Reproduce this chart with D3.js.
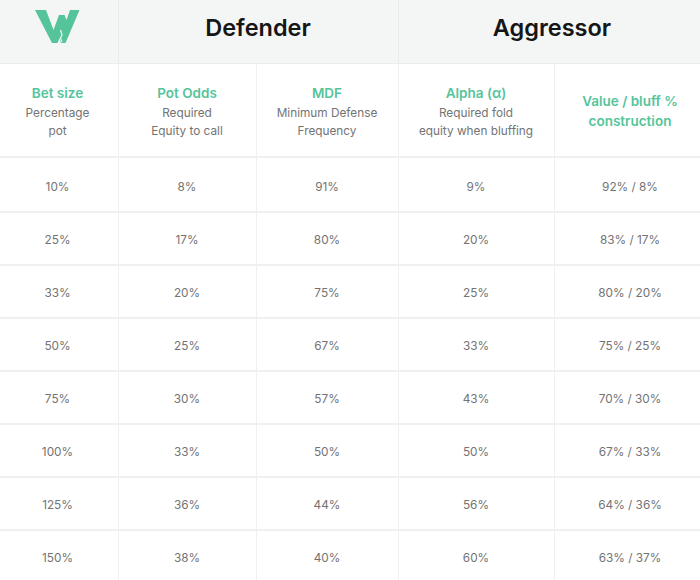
<!DOCTYPE html>
<html><head><meta charset="utf-8">
<script src="https://cdn.jsdelivr.net/npm/d3@7"></script>
<style>html,body{margin:0;padding:0;background:#fff;}svg{display:block;font-family:Inter,"Noto Sans",sans-serif;}</style>
</head><body><div id="c"></div>
<script>
const groups = ["Defender", "Aggressor"];
const columnTitles = ["Bet size", "Pot Odds", "MDF", "Alpha (α)", "Value / bluff %"];
const columnSubtitles = [["Percentage", "pot"], ["Required", "Equity to call"], ["Minimum Defense", "Frequency"], ["Required fold", "equity when bluffing"], []];
const betSize = [10, 25, 33, 50, 75, 100, 125, 150];
const potOdds = [8, 17, 20, 25, 30, 33, 36, 38];
const mdf = [91, 80, 75, 67, 57, 50, 44, 40];
const alpha = [9, 20, 25, 33, 43, 50, 56, 60];
const valueShare = [92, 83, 80, 75, 70, 67, 64, 63];
const bluffShare = [8, 17, 20, 25, 30, 33, 36, 37];

const W = 700, H = 580;
const green = "#55c49b";
const svg = d3.select("#c").append("svg").attr("width", W).attr("height", H);

const edges = [-3, 118, 256, 398, 554, 706];
const colIdx = d3.range(columnTitles.length);
const x0 = d3.scaleOrdinal().domain(colIdx).range(edges.slice(0, -1));
const x1 = d3.scaleOrdinal().domain(colIdx).range(edges.slice(1));
const cx = i => (x0(i) + x1(i)) / 2;

const headerH = 64;
const y = d3.scaleBand().domain(d3.range(betSize.length)).range([159, 583]);

// header background
svg.append("rect").attr("x", 0).attr("y", 0).attr("width", W).attr("height", headerH).attr("fill", "#f4f5f5");
svg.append("line").attr("x1", 0).attr("x2", W).attr("y1", headerH - 0.5).attr("y2", headerH - 0.5).attr("stroke", "#ececec");

// logo
svg.append("path")
  .attr("d", "M35,10 L46,10 L53.5,30 L59,15 L64.5,15 L66.5,20 L70,10 L79.5,10 L65.5,43 L61,43 L59.5,38 L57.5,43 L52,43 Z")
  .attr("fill", green);
svg.append("path").attr("d", "M60.5,30 L62,35 L60.5,38 L62,42").attr("stroke", "#f4f5f5").attr("stroke-width", 1.2).attr("fill", "none");

// group titles
const groupSpans = [[1, 2], [3, 4]];
svg.selectAll("text.group").data(groups).join("text")
  .attr("class", "group")
  .attr("x", (d, i) => (x0(groupSpans[i][0]) + x1(groupSpans[i][1])) / 2)
  .attr("y", 36).attr("text-anchor", "middle")
  .attr("font-size", 23.5).attr("font-weight", 600).attr("fill", "#161616").text(d => d);

// grid lines
const lineColor = "#f0f0f0";
svg.selectAll("line.hdr").data([118, 398]).join("line")
  .attr("x1", d => d + 0.5).attr("x2", d => d + 0.5).attr("y1", 0).attr("y2", headerH).attr("stroke", "#e9eaea");
svg.selectAll("line.v").data(edges.slice(1, -1)).join("line")
  .attr("x1", d => d + 0.5).attr("x2", d => d + 0.5).attr("y1", headerH).attr("y2", H).attr("stroke", lineColor);
svg.append("line").attr("x1", 0).attr("x2", W).attr("y1", 157).attr("y2", 157).attr("stroke", lineColor).attr("stroke-width", 2);
svg.selectAll("line.h").data(d3.range(1, betSize.length)).join("line")
  .attr("x1", 0).attr("x2", W).attr("y1", d => y(d)).attr("y2", d => y(d))
  .attr("stroke", lineColor).attr("stroke-width", 2);

// column titles
colIdx.forEach(i => {
  const sub = columnSubtitles[i];
  if (sub.length) {
    svg.append("text").attr("x", cx(i)).attr("y", 98).attr("text-anchor", "middle")
      .attr("font-size", 13.5).attr("font-weight", 600).attr("fill", green).text(columnTitles[i]);
    sub.forEach((s, k) => svg.append("text").attr("x", cx(i)).attr("y", 116.5 + k * 18.5).attr("text-anchor", "middle")
      .attr("font-size", 11.8).attr("fill", "#737373").text(s));
  } else {
    svg.append("text").attr("x", cx(i)).attr("y", 106).attr("text-anchor", "middle")
      .attr("font-size", 13.5).attr("font-weight", 600).attr("fill", green).text(columnTitles[i]);
    svg.append("text").attr("x", cx(i)).attr("y", 126).attr("text-anchor", "middle")
      .attr("font-size", 13.5).attr("font-weight", 600).attr("fill", green).text("construction");
  }
});

// body
const rows = betSize.map((b, i) => [b + "%", potOdds[i] + "%", mdf[i] + "%", alpha[i] + "%", valueShare[i] + "% / " + bluffShare[i] + "%"]);
const rowG = svg.selectAll("g.row").data(rows).join("g").attr("class", "row")
  .attr("transform", (d, i) => `translate(0,${y(i) + y.bandwidth() / 2 + 1})`);
rowG.selectAll("text").data(d => d).join("text")
  .attr("x", (d, i) => cx(i)).attr("y", 0).attr("dy", "0.35em").attr("text-anchor", "middle")
  .attr("font-size", 11.8).attr("fill", "#737373").text(d => d);
</script></body></html>
